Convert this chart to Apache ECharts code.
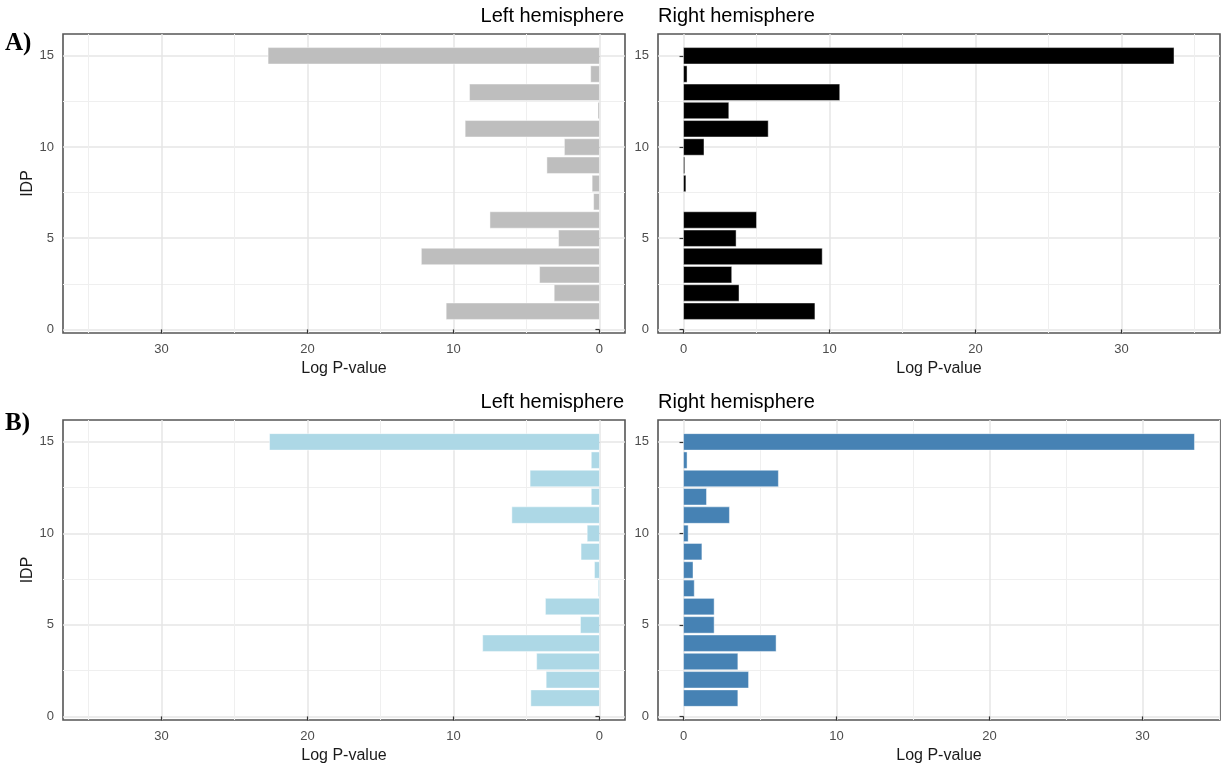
<!DOCTYPE html>
<html>
<head>
<meta charset="utf-8">
<script src="https://cdn.jsdelivr.net/npm/echarts@6/dist/echarts.min.js"></script>
<style>
html, body { margin: 0; padding: 0; background: #ffffff; }
#chart { width: 1225px; height: 767px; }
</style>
</head>
<body>
<div id="chart"></div>
<script>
// ---------------- data ----------------
const IDP = [1, 2, 3, 4, 5, 6, 7, 8, 9, 10, 11, 12, 13, 14, 15];
// Panel A
const leftA  = [10.5, 3.1, 4.1, 12.2, 2.8, 7.5, 0.4, 0.5, 3.6, 2.4, 9.2, 0.1, 8.9, 0.6, 22.7];
const rightA = [9.0, 3.8, 3.3, 9.5, 3.6, 5.0, 0, 0.16, 0.08, 1.4, 5.8, 3.1, 10.7, 0.24, 33.6];
// Panel B
const leftB  = [4.7, 3.65, 4.3, 8.0, 1.3, 3.7, 0.08, 0.34, 1.26, 0.84, 6.0, 0.56, 4.75, 0.56, 22.6];
const rightB = [3.55, 4.25, 3.55, 6.05, 2.0, 2.0, 0.7, 0.62, 1.2, 0.3, 3.0, 1.5, 6.2, 0.23, 33.4];

const xTickValues = [0, 10, 20, 30];
const yTickValues = [0, 5, 10, 15];
const hemisphereTitles = ['Left hemisphere', 'Right hemisphere'];
const rowLabels = ['A)', 'B)'];
const xAxisTitle = 'Log P-value';
const yAxisTitle = 'IDP';
// x-axis upper limits (null = use data maximum)
const xLimits = [35, 35, 35, null];

// ---------------- layout / style ----------------
const panels = [
  { values: leftA,  inverse: true,  fill: '#bebebe', grid: { left: 63,  top: 34,  width: 562, height: 299 } },
  { values: rightA, inverse: false, fill: '#000000', grid: { left: 658, top: 34,  width: 562, height: 299 } },
  { values: leftB,  inverse: true,  fill: '#add8e6', grid: { left: 63,  top: 420, width: 562, height: 300 } },
  { values: rightB, inverse: false, fill: '#4682b4', grid: { left: 658, top: 420, width: 562, height: 300 } }
];
const BAR_W = 0.9;
const FONT = 'Liberation Sans, Arial, sans-serif';
const MAJOR = { color: '#e6e6e6', width: 1.5 };
const MINOR = { color: '#efefef', width: 1 };

const grids = [], xAxes = [], yAxes = [], series = [];

panels.forEach((p, i) => {
  grids.push(Object.assign({
    show: true, borderColor: '#555555', borderWidth: 1.6, backgroundColor: '#ffffff'
  }, p.grid));

  const lim = xLimits[i] != null ? xLimits[i] : Math.max.apply(null, p.values);
  const pad = 0.05 * lim;
  xAxes.push({
    gridIndex: i, type: 'value', inverse: p.inverse,
    min: -pad, max: lim + pad,
    minInterval: 10, maxInterval: 10, splitNumber: 4,
    name: xAxisTitle, nameLocation: 'middle', nameGap: 28,
    nameTextStyle: { fontSize: 16, color: '#1a1a1a', fontFamily: FONT },
    axisLine: { show: false },
    axisTick: { show: true, length: 4, customValues: xTickValues, lineStyle: { color: '#333333', width: 1.2 } },
    axisLabel: { customValues: xTickValues, margin: 10, fontSize: 13, color: '#4d4d4d', fontFamily: FONT },
    splitLine: { show: true, lineStyle: MAJOR },
    minorTick: { show: false, splitNumber: 2 },
    minorSplitLine: { show: true, lineStyle: MINOR }
  });

  // y range: bars span [first-0.45, last+0.45], expanded by 5% on each side
  const lo = IDP[0] - BAR_W / 2, hi = IDP[IDP.length - 1] + BAR_W / 2;
  const span = hi - lo;
  yAxes.push({
    gridIndex: i, type: 'value',
    min: lo - 0.05 * span, max: hi + 0.05 * span,
    minInterval: 5, maxInterval: 5, splitNumber: 3,
    name: i % 2 === 0 ? yAxisTitle : '', nameLocation: 'middle', nameGap: 27,
    nameTextStyle: { fontSize: 16, color: '#1a1a1a', fontFamily: FONT },
    axisLine: { show: false },
    axisTick: { show: true, length: 4, customValues: yTickValues, lineStyle: { color: '#333333', width: 1.2 } },
    axisLabel: { customValues: yTickValues, margin: 9, fontSize: 13, color: '#4d4d4d', fontFamily: FONT },
    splitLine: { show: true, lineStyle: MAJOR },
    minorTick: { show: false, splitNumber: 2 },
    minorSplitLine: { show: true, lineStyle: MINOR }
  });

  const fill = p.fill;
  series.push({
    type: 'custom',
    xAxisIndex: i, yAxisIndex: i,
    clip: true,
    encode: { x: 0, y: 1 },
    data: IDP.map((id, k) => [p.values[k], id]),
    renderItem: function (params, api) {
      const v = api.value(0), id = api.value(1);
      if (!v) return null;
      const a = api.coord([0, id - BAR_W / 2]);
      const b = api.coord([v, id + BAR_W / 2]);
      return {
        type: 'rect',
        shape: {
          x: Math.min(a[0], b[0]), y: Math.min(a[1], b[1]),
          width: Math.abs(b[0] - a[0]), height: Math.abs(b[1] - a[1])
        },
        style: { fill: fill, stroke: 'rgba(255,255,255,0.75)', lineWidth: 0.6 }
      };
    }
  });
});

const graphic = [];
[0, 1].forEach(r => {
  const g = panels[r * 2].grid;
  graphic.push({
    type: 'text', x: 5, y: g.top + (r === 0 ? 10 : 4),
    style: { text: rowLabels[r], font: 'bold 25px "Liberation Serif", "Times New Roman", serif', fill: '#000000', textVerticalAlign: 'middle' }
  });
  graphic.push({
    type: 'text', x: g.left + g.width - 1, y: g.top - 18,
    style: { text: hemisphereTitles[0], font: '20px ' + FONT, fill: '#000000', textAlign: 'right', textVerticalAlign: 'middle' }
  });
  graphic.push({
    type: 'text', x: panels[r * 2 + 1].grid.left, y: g.top - 18,
    style: { text: hemisphereTitles[1], font: '20px ' + FONT, fill: '#000000', textAlign: 'left', textVerticalAlign: 'middle' }
  });
});

const chart = echarts.init(document.getElementById('chart'), null, { renderer: 'canvas' });
chart.setOption({
  backgroundColor: '#ffffff',
  animation: false,
  grid: grids,
  xAxis: xAxes,
  yAxis: yAxes,
  series: series,
  graphic: graphic
});
</script>
</body>
</html>
